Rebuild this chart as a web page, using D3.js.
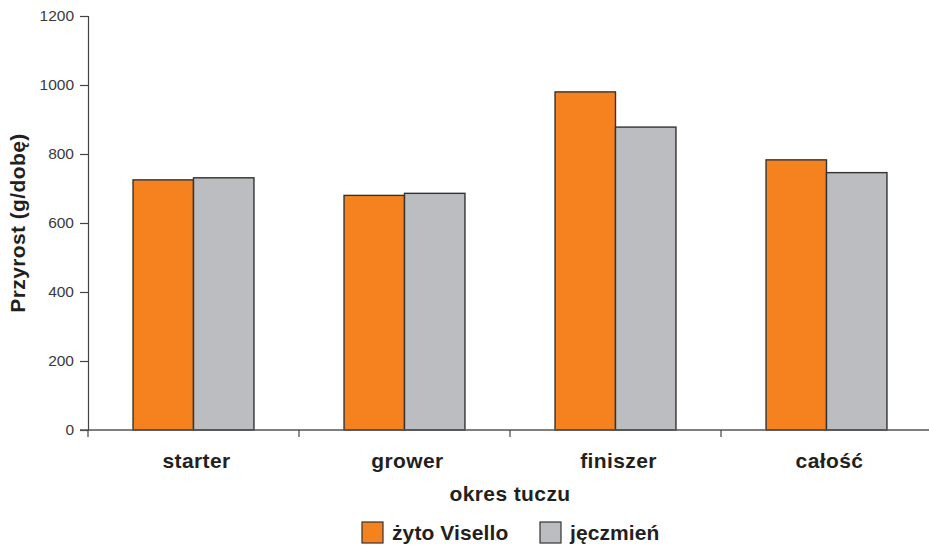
<!DOCTYPE html>
<html>
<head>
<meta charset="utf-8">
<script src="https://cdn.jsdelivr.net/npm/d3@7"></script>
<style>
  html, body { margin: 0; padding: 0; background: #fff; }
  svg { display: block; font-family: "Liberation Sans", Arial, sans-serif; }
</style>
</head>
<body>
<svg id="chart" width="929" height="545"></svg>
<script>
// Daily weight gain by fattening period
const categories = ["starter", "grower", "finiszer", "całość"];
const seriesNames = ["żyto Visello", "jęczmień"];
const rye = [725, 680, 980, 783];
const barley = [731, 686, 878, 746];
const yTicks = [0, 200, 400, 600, 800, 1000, 1200];
const colors = ["#F5821F", "#BCBDC0"];

const svg = d3.select("#chart");
const margin = { left: 88, right: -3, top: 16, bottom: 115 };
const W = 929, H = 545;
const x0 = margin.left, x1 = W - margin.right;
const yBottom = H - margin.bottom, yTop = margin.top;

const x = d3.scaleBand().domain(categories).range([x0, x1]).paddingInner(0).paddingOuter(0);
const xs = d3.scaleBand().domain(seriesNames).range([0, x.bandwidth()]).paddingInner(0).paddingOuter(0.745);
const y = d3.scaleLinear().domain([0, 1200]).range([yBottom, yTop]);

const data = categories.map((c, i) => ({ cat: c, vals: [rye[i], barley[i]] }));

// bars
const g = svg.append("g");
data.forEach(d => {
  d.vals.forEach((v, j) => {
    g.append("rect")
      .attr("x", x(d.cat) + xs(seriesNames[j]))
      .attr("y", y(v))
      .attr("width", xs.bandwidth())
      .attr("height", y(0) - y(v))
      .attr("fill", colors[j])
      .attr("stroke", "#333")
      .attr("stroke-width", 1.4);
  });
});

// y axis
const yAxis = d3.axisLeft(y).tickValues(yTicks).tickSize(8).tickPadding(6).tickFormat(d3.format("d"));
const ya = svg.append("g").attr("transform", `translate(${x0},0)`).call(yAxis);
ya.select(".domain").attr("stroke", "#444").attr("stroke-width", 1.2);
ya.selectAll(".tick line").attr("stroke", "#444").attr("stroke-width", 1.2);
ya.selectAll(".tick text").attr("font-size", 15.5).attr("fill", "#3a3a3a")
  .attr("font-family", "'Liberation Sans', Arial, sans-serif");

// x axis: baseline with boundary ticks between categories
const xa = svg.append("g");
xa.append("line").attr("x1", x0 - 8).attr("x2", W).attr("y1", y(0)).attr("y2", y(0))
  .attr("stroke", "#555").attr("stroke-width", 1.4);
categories.forEach(c => {
  xa.append("line").attr("x1", x(c)).attr("x2", x(c)).attr("y1", y(0)).attr("y2", y(0) + 7)
    .attr("stroke", "#444").attr("stroke-width", 1.2);
});
const boldText = sel => sel.attr("font-size", 21).attr("font-weight", "bold")
  .attr("letter-spacing", 0.4).attr("fill", "#231F20");
categories.forEach(c => {
  xa.append("text").attr("x", x(c) + x.bandwidth() / 2 + 3).attr("y", 468)
    .attr("text-anchor", "middle").call(boldText).text(c);
});

// axis titles
svg.append("text").attr("x", 510).attr("y", 501).attr("text-anchor", "middle")
  .call(boldText).text("okres tuczu");
svg.append("text").attr("transform", `translate(25,${(yTop + yBottom) / 2}) rotate(-90)`)
  .attr("text-anchor", "middle").call(boldText).text("Przyrost (g/dobę)");

// legend
const legendItems = [
  { name: seriesNames[0], color: colors[0], x: 362 },
  { name: seriesNames[1], color: colors[1], x: 540 }
];
legendItems.forEach(it => {
  svg.append("rect").attr("x", it.x).attr("y", 522).attr("width", 21).attr("height", 21)
    .attr("fill", it.color).attr("stroke", "#333").attr("stroke-width", 1.2);
  svg.append("text").attr("x", it.x + 30).attr("y", 540).call(boldText)
    .attr("letter-spacing", 0.1).text(it.name);
});
</script>
</body>
</html>
